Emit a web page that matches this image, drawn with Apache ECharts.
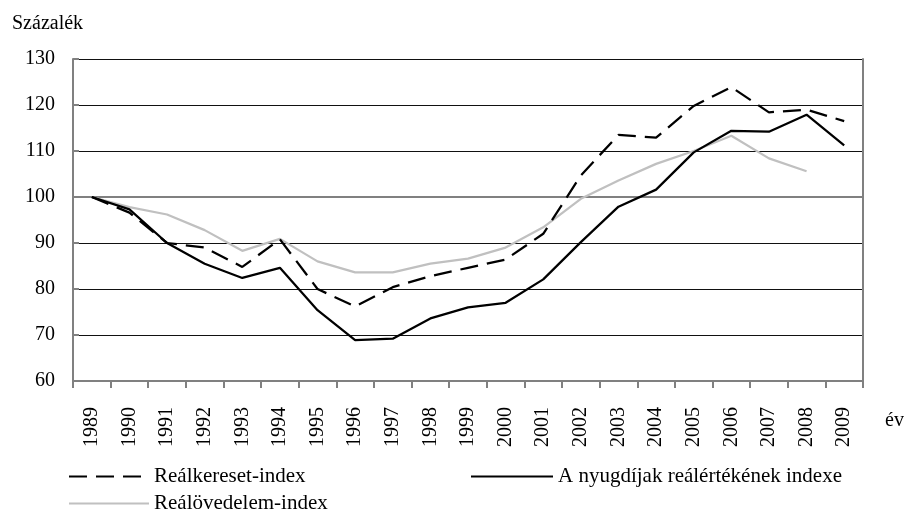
<!DOCTYPE html>
<html>
<head>
<meta charset="utf-8">
<script src="https://cdn.jsdelivr.net/npm/echarts@6/dist/echarts.min.js"></script>
<style>
html,body{margin:0;padding:0;background:#fff;}
#chart{width:905px;height:510px;}
</style>
</head>
<body>
<div id="chart"></div>
<script>
var years = ['1989','1990','1991','1992','1993','1994','1995','1996','1997','1998','1999','2000','2001','2002','2003','2004','2005','2006','2007','2008','2009'];
var realKereset = [100, 96.6, 90.0, 89.0, 84.8, 90.8, 80.0, 76.2, 80.4, 82.8, 84.6, 86.4, 92.0, 104.7, 113.5, 112.9, 119.8, 123.9, 118.4, 119.0, 116.5];
var nyugdij = [100, 97.3, 90.0, 85.5, 82.4, 84.6, 75.4, 68.9, 69.2, 73.6, 76.0, 77.0, 82.1, 90.2, 97.9, 101.6, 109.7, 114.4, 114.2, 117.9, 111.2];
var realJovedelem = [100, 97.8, 96.2, 92.8, 88.3, 90.9, 86.0, 83.6, 83.6, 85.5, 86.6, 89.0, 93.4, 99.6, 103.6, 107.2, 110.0, 113.3, 108.4, 105.6, null];
var names = ['Reálkereset-index', 'A nyugdíjak reálértékének indexe', 'Reálövedelem-index'];
var refLine = 100;

var FONT = "'Liberation Serif', 'Times New Roman', serif";
var chart = echarts.init(document.getElementById('chart'));
var legendText = {fontFamily: FONT, fontSize: 21, color: '#000'};
var legendBase = {padding: 0, itemHeight: 14, textStyle: legendText, itemStyle: {opacity: 0}};
chart.setOption({
  animation: false,
  backgroundColor: '#fff',
  textStyle: {fontFamily: FONT},
  grid: {left: 73, right: 42, top: 59, bottom: 129, containLabel: false},
  graphic: [
    {type: 'text', left: 12, top: 14, style: {text: 'Százalék', font: '20px ' + FONT, fill: '#000'}},
    {type: 'text', left: 885, top: 411, style: {text: 'év', font: '20px ' + FONT, fill: '#000'}}
  ],
  legend: [
    Object.assign({data: [names[0]], left: 68, top: 466, itemWidth: 80}, legendBase),
    Object.assign({data: [names[1]], left: 470, top: 466, itemWidth: 82}, legendBase),
    Object.assign({data: [names[2]], left: 68, top: 493, itemWidth: 80}, legendBase)
  ],
  xAxis: {
    type: 'category',
    data: years,
    boundaryGap: true,
    axisLine: {lineStyle: {color: '#808080', width: 2}},
    axisTick: {show: true, length: 7, lineStyle: {color: '#808080', width: 2}},
    axisLabel: {rotate: 90, margin: 26, fontFamily: FONT, fontSize: 20, color: '#000', interval: 0},
    splitLine: {show: false}
  },
  yAxis: [
    {
      type: 'value', min: 60, max: 130, interval: 10,
      axisLine: {show: true, lineStyle: {color: '#808080', width: 2}},
      axisTick: {show: true, inside: true, length: 6, lineStyle: {color: '#808080', width: 2}},
      axisLabel: {margin: 18, fontFamily: FONT, fontSize: 20, color: '#000'},
      splitLine: {show: true, lineStyle: {color: '#111', width: 1}}
    },
    {
      type: 'value', min: 60, max: 130, interval: 10, position: 'right',
      axisLine: {show: true, lineStyle: {color: '#808080', width: 2}},
      axisTick: {show: false}, axisLabel: {show: false}, splitLine: {show: false}
    }
  ],
  series: [
    {
      name: names[2], type: 'line', data: realJovedelem, symbol: 'none', z: 2,
      lineStyle: {color: '#c0c0c0', width: 2.25}, itemStyle: {color: '#c0c0c0'},
      markLine: {silent: true, symbol: 'none', label: {show: false},
        lineStyle: {color: '#808080', width: 2, type: 'solid'}, data: [{yAxis: refLine}], z: 1}
    },
    {
      name: names[0], type: 'line', data: realKereset, symbol: 'none', z: 3,
      lineStyle: {color: '#000', width: 2.25, type: [18, 9]}, itemStyle: {color: '#000'}
    },
    {
      name: names[1], type: 'line', data: nyugdij, symbol: 'none', z: 4,
      lineStyle: {color: '#000', width: 2.25}, itemStyle: {color: '#000'}
    }
  ]
});
</script>
</body>
</html>
